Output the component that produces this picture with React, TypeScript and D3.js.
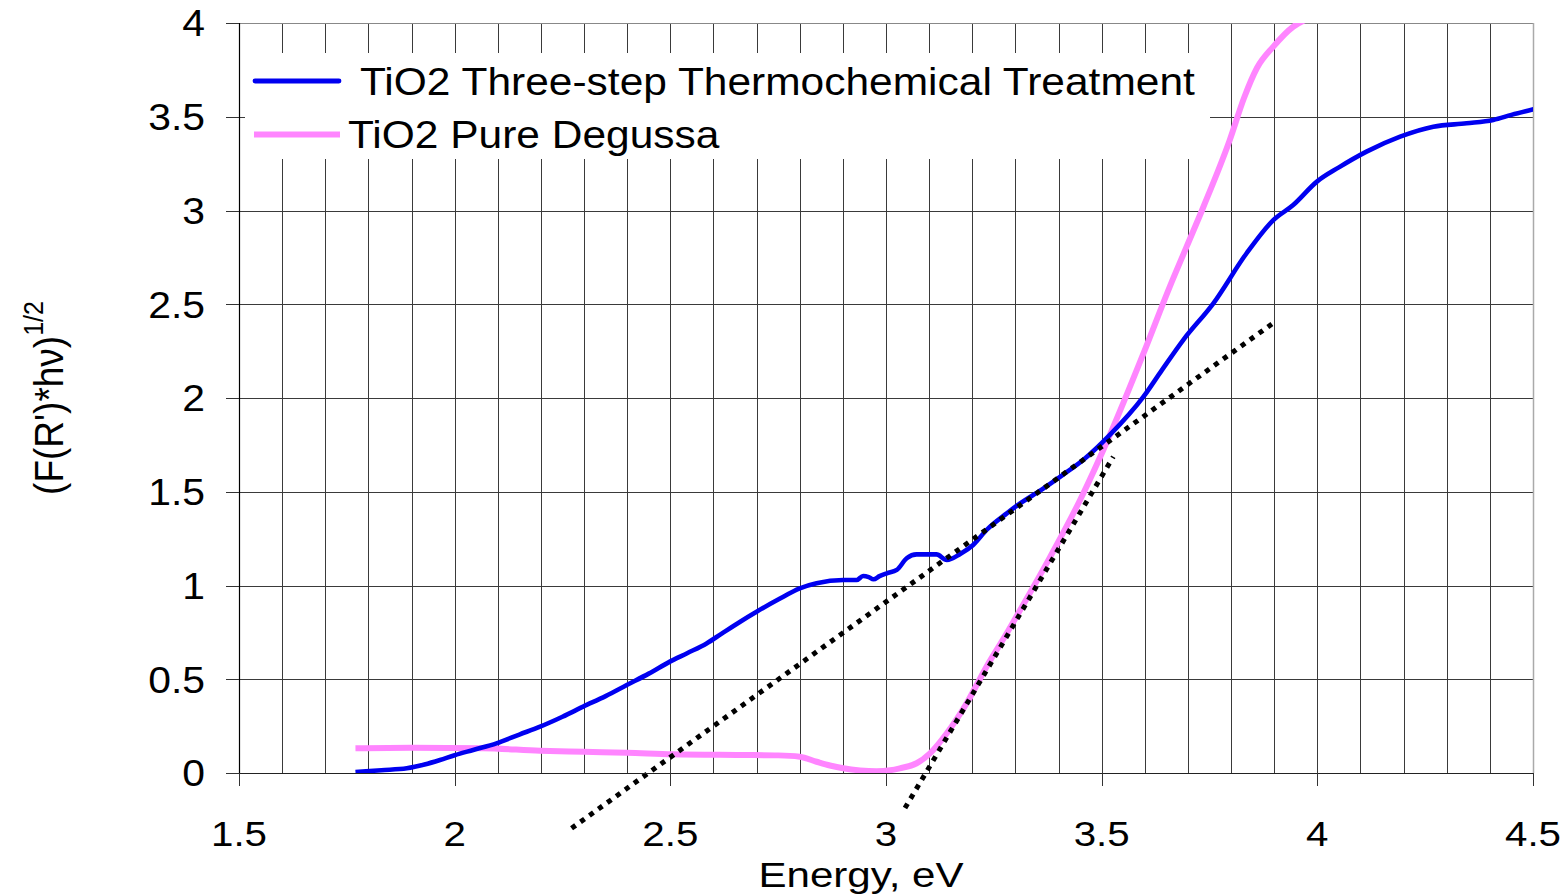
import React from "react";
import * as d3 from "d3";

// ---- data ----
const blueX = [1.77,1.83,1.889,1.93,1.966,2.0,2.043,2.097,2.15,2.198,2.25,2.298,2.35,2.399,2.45,2.499,2.54,2.584,2.62,2.662,2.70,2.75,2.80,2.839,2.901,2.932,2.947,2.96,2.971,2.985,3.002,3.025,3.048,3.071,3.117,3.141,3.172,3.202,3.233,3.28,3.311,3.36,3.41,3.457,3.519,3.597,3.64,3.689,3.759,3.836,3.898,3.944,3.999,4.05,4.114,4.192,4.269,4.346,4.408,4.45,4.501];
const blueY = [0.005,0.015,0.025,0.045,0.069,0.095,0.123,0.158,0.205,0.247,0.30,0.354,0.41,0.469,0.53,0.594,0.64,0.691,0.745,0.807,0.86,0.925,0.985,1.012,1.029,1.029,1.051,1.045,1.033,1.05,1.065,1.083,1.145,1.166,1.166,1.136,1.168,1.216,1.296,1.385,1.438,1.51,1.59,1.669,1.803,2.007,2.15,2.309,2.505,2.772,2.949,3.029,3.154,3.23,3.314,3.394,3.447,3.465,3.483,3.51,3.54];
const pinkX = [1.77,1.9,2.066,2.198,2.3,2.399,2.506,2.662,2.75,2.80,2.839,2.87,2.901,2.94,2.978,3.01,3.032,3.071,3.102,3.141,3.187,3.233,3.28,3.311,3.38,3.45,3.519,3.597,3.658,3.697,3.736,3.797,3.83,3.86,3.898,3.944,3.975];
const pinkY = [0.132,0.135,0.132,0.119,0.113,0.108,0.10,0.096,0.094,0.087,0.06,0.04,0.025,0.014,0.01,0.015,0.025,0.052,0.105,0.212,0.372,0.567,0.745,0.869,1.15,1.456,1.803,2.238,2.594,2.807,3.02,3.376,3.6,3.76,3.874,3.98,4.02];
const fit1X = [2.271, 3.902];
const fit1Y = [-0.295, 2.407];
const fit2X = [3.044, 3.527];
const fit2Y = [-0.187, 1.687];
const xTicks = [1.5, 2, 2.5, 3, 3.5, 4, 4.5];
const yTicks = [0, 0.5, 1, 1.5, 2, 2.5, 3, 3.5, 4];
const seriesNames = ["TiO2 Three-step Thermochemical Treatment", "TiO2 Pure Degussa"];
const xTitle = "Energy, eV";

const W = 1568, H = 895;
const L = 239, R = 1533, T = 23, B = 773;
const FONT = "'Liberation Sans', Arial, sans-serif";
const SX = 1.12;

export default function App() {
  const x = d3.scaleLinear().domain([1.5, 4.5]).range([L, R]);
  const y = d3.scaleLinear().domain([0, 4]).range([B, T]);
  const line = d3.line<[number, number]>().x(d => x(d[0])).y(d => y(d[1])).curve(d3.curveMonotoneX);
  const blue = line(blueX.map((v, i) => [v, blueY[i]]))!;
  const pink = line(pinkX.map((v, i) => [v, pinkY[i]]))!;
  const minor = d3.range(16, 45).map(v => v / 10);
  const hGrid = yTicks.filter(v => v > 0 && v < 4);

  return (
    <svg width={W} height={H} style={{ position: "absolute", left: 0, top: 0, background: "#fff" }} fontFamily={FONT}>
      <defs>
        <clipPath id="plot"><rect x={L} y={T} width={R - L} height={B - T} /></clipPath>
      </defs>
      <rect x={0} y={0} width={W} height={H} fill="#fff" />
      {minor.map(v => (
        <line key={"v" + v} x1={Math.round(x(v)) + 0.5} x2={Math.round(x(v)) + 0.5} y1={T} y2={B} stroke="#3a3a3a" strokeWidth={1} />
      ))}
      {hGrid.map(v => (
        <line key={"h" + v} x1={L} x2={R} y1={Math.round(y(v)) + 0.5} y2={Math.round(y(v)) + 0.5} stroke="#3a3a3a" strokeWidth={1} />
      ))}
      {/* border */}
      <line x1={L} x2={R} y1={T + 0.5} y2={T + 0.5} stroke="#888" strokeWidth={1} />
      <line x1={R + 0.5} x2={R + 0.5} y1={T} y2={B} stroke="#aaa" strokeWidth={1.5} />
      {/* legend box */}
      <rect x={245} y={53} width={965} height={106} fill="#fff" />
      {/* curves */}
      <g clipPath="url(#plot)">
        <path d={pink} fill="none" stroke="#ff85ff" strokeWidth={6} />
        <path d={blue} fill="none" stroke="#0000f0" strokeWidth={4.6} />
      </g>
      {/* fit lines */}
      <line x1={x(fit1X[0])} y1={y(fit1Y[0])} x2={x(fit1X[1])} y2={y(fit1Y[1])} stroke="#000" strokeWidth={5} strokeDasharray="5 6" />
      <line x1={x(fit2X[0])} y1={y(fit2Y[0])} x2={x(fit2X[1])} y2={y(fit2Y[1])} stroke="#000" strokeWidth={5} strokeDasharray="5 6" />
      {/* axes */}
      <line x1={L + 0.5} x2={L + 0.5} y1={T} y2={B} stroke="#000" strokeWidth={1.2} />
      <line x1={L} x2={R} y1={B + 0.5} y2={B + 0.5} stroke="#222" strokeWidth={1.2} />
      {yTicks.map(v => (
        <g key={"yt" + v}>
          <line x1={226} x2={L} y1={Math.round(y(v)) + 0.5} y2={Math.round(y(v)) + 0.5} stroke="#333" strokeWidth={1} />
          <text transform={`translate(205,${y(v) + 13.3}) scale(${SX},1)`} textAnchor="end" fontSize={36.5} fill="#000">{String(v)}</text>
        </g>
      ))}
      {xTicks.map(v => (
        <g key={"xt" + v}>
          <line x1={Math.round(x(v)) + 0.5} x2={Math.round(x(v)) + 0.5} y1={B} y2={786} stroke="#333" strokeWidth={1} />
          <text transform={`translate(${x(v)},846) scale(${SX},1)`} textAnchor="middle" fontSize={36} fill="#000">{String(v)}</text>
        </g>
      ))}
      <text transform={`translate(861,887) scale(1.17,1)`} textAnchor="middle" fontSize={36} fill="#000">{xTitle}</text>
      <text transform={`translate(63,398) scale(${SX},1) rotate(-90)`} textAnchor="middle" fontSize={37} fill="#000">
        (F(R')*hν)<tspan fontSize={25} dy={-18}>1/2</tspan>
      </text>
      {/* legend */}
      <line x1={255} x2={339} y1={81} y2={81} stroke="#0000f0" strokeWidth={4.8} strokeLinecap="round" />
      <line x1={254} x2={340} y1={134.5} y2={134.5} stroke="#ff85ff" strokeWidth={6} />
      <text transform={`translate(360,95) scale(1.095,1)`} fontSize={38.8} fill="#000">{seriesNames[0]}</text>
      <text transform={`translate(348,148) scale(1.095,1)`} fontSize={38.8} fill="#000">{seriesNames[1]}</text>
    </svg>
  );
}
